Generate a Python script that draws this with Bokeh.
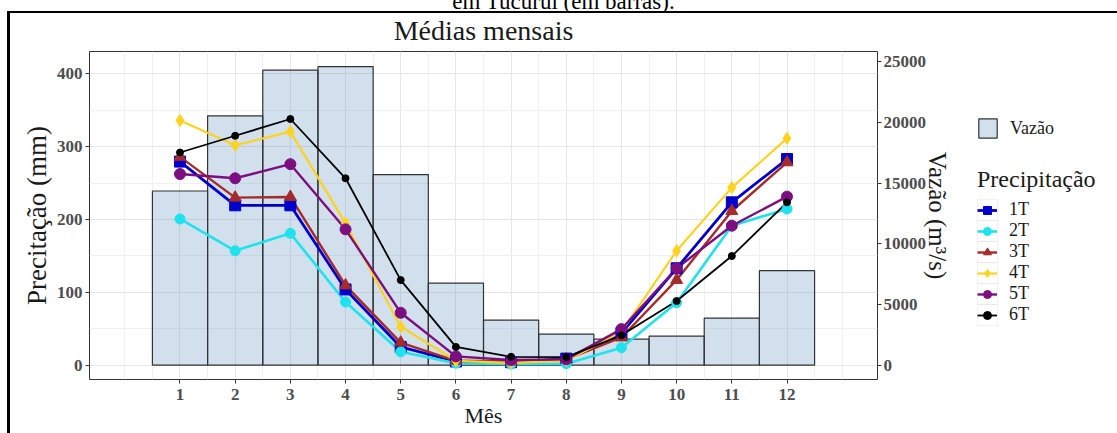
from bokeh.plotting import figure
from bokeh.layouts import row, column
from bokeh.models import (Range1d, LinearAxis, FixedTicker, Legend, LegendItem, Div,
                          BoxAnnotation)
from bokeh.embed import file_html
from bokeh.resources import INLINE

# ---------------- data ----------------
meses = [1, 2, 3, 4, 5, 6, 7, 8, 9, 10, 11, 12]
vazao = [14350, 20540, 24300, 24600, 15700, 6760, 3710, 2560, 2140, 2390, 3880, 7780]

serie_nomes = ["1T", "2T", "3T", "4T", "5T", "6T"]
prec_1t = [279.5, 219.5, 219.5, 104.0, 25.0, 5.0, 4.0, 9.0, 44.0, 133.0, 223.6, 283.0]
prec_2t = [200.7, 157.0, 181.0, 86.6, 18.3, 2.7, 1.5, 2.0, 24.0, 85.6, 191.5, 214.4]
prec_3t = [286.0, 230.0, 231.0, 109.5, 31.0, 6.0, 5.0, 8.0, 38.0, 117.0, 211.7, 278.5]
prec_4t = [336.0, 302.0, 320.7, 194.7, 52.7, 6.0, 3.0, 6.0, 46.0, 157.0, 243.8, 311.5]
prec_5t = [262.5, 256.6, 276.0, 186.5, 71.9, 12.0, 7.0, 8.0, 49.5, 133.0, 191.5, 231.4]
prec_6t = [292.0, 315.0, 338.0, 256.6, 116.8, 25.0, 11.5, 11.0, 41.0, 88.0, 149.8, 223.6]
series = [prec_1t, prec_2t, prec_3t, prec_4t, prec_5t, prec_6t]

y_ticks = [0, 100, 200, 300, 400]
y_minor = [50, 150, 250, 350]
vaz_ticks = [0, 5000, 10000, 15000, 20000, 25000]
fator = 60.0  # vazão = 60 * precipitação (eixo secundário)

# ---------------- styles ----------------
FONT = "Liberation Serif"
cores = ["#0000CD", "#1EE3EE", "#A52A2A", "#FFD21F", "#7D0E80", "#000000"]
marcadores = ["square", "circle", "triangle", "diamond", "circle", "circle"]
tamanhos = [11, 10, 12, 12, 11, 7]
larguras = [2.8, 2.6, 2.4, 2.2, 2.4, 1.8]
bar_style = dict(fill_color="steelblue", fill_alpha=0.25, line_color="#333333", line_width=1.2)

y0, y1 = -19.7, 430.7
p = figure(width=950, height=433, output_backend="svg", toolbar_location=None,
           x_range=Range1d(-0.64, 13.64), y_range=Range1d(y0, y1),
           min_border_left=79, min_border_right=83, min_border_top=51,
           min_border_bottom=54, background_fill_color="white",
           border_fill_color=None, margin=0)
p.outline_line_color = "#333333"
p.outline_line_width = 1
p.extra_y_ranges = {"vaz": Range1d(y0 * fator, y1 * fator)}

p.title.text = "Médias mensais"
p.title.align = "center"
p.title.text_font = FONT
p.title.text_font_size = "28px"
p.title.text_font_style = "normal"
p.title.text_color = "#1A1A1A"
p.title.standoff = 11

p.vbar(x=meses, top=vazao, bottom=0, width=1.0, y_range_name="vaz", **bar_style)
for vals, c, w in zip(series, cores, larguras):
    p.line(meses, vals, line_color=c, line_width=w)
for vals, c, m, s in zip(series, cores, marcadores, tamanhos):
    p.scatter(meses, vals, marker=m, size=s, fill_color=c, line_color=c)

# ---------------- axes ----------------
minor_x = [0] + [m - 0.5 for m in meses] + [meses[-1] + 0.5, meses[-1] + 1]
p.xaxis.ticker = FixedTicker(ticks=meses, minor_ticks=minor_x)
p.yaxis.ticker = FixedTicker(ticks=y_ticks, minor_ticks=y_minor)
right = LinearAxis(y_range_name="vaz", ticker=FixedTicker(ticks=vaz_ticks))
p.add_layout(right, "right")

p.xaxis.axis_label = "Mês"
p.yaxis.axis_label = "Precitação (mm)"
right.axis_label = "Vazão (m³/s)"

for ax, so, lso, lsz in [(p.xaxis[0], 5, 0, "22px"), (p.yaxis[0], 3, 2, "27px"),
                         (right, 2, -5, "25px")]:
    ax.axis_line_color = None
    ax.major_tick_line_color = "#333333"
    ax.major_tick_out = 4
    ax.major_tick_in = 0
    ax.minor_tick_out = 0
    ax.minor_tick_in = 0
    ax.minor_tick_line_color = None
    ax.major_label_standoff = so
    ax.major_label_text_font = FONT
    ax.major_label_text_font_size = "17px"
    ax.major_label_text_font_style = "bold"
    ax.major_label_text_color = "#4D4D4D"
    ax.axis_label_standoff = lso
    ax.axis_label_text_font = FONT
    ax.axis_label_text_font_size = lsz
    ax.axis_label_text_font_style = "normal"
    ax.axis_label_text_color = "#1A1A1A"

for g in (p.xgrid[0], p.ygrid[0]):
    g.grid_line_color = "#E6E6E6"
    g.grid_line_width = 1
    g.minor_grid_line_color = "#F0F0F0"
    g.minor_grid_line_width = 1

# ---------------- legend panel (separate figure; its glyphs are muted, only the legend shows them) ----------------
LF_W, LF_H = 157, 328   # legend-panel frame size in px (x: 0..157, y: 0..328 from its bottom)
lf = figure(width=LF_W, height=433, output_backend="svg", toolbar_location=None,
            x_range=Range1d(0, LF_W), y_range=Range1d(0, LF_H),
            min_border=0, margin=0)
lf.axis.visible = False
lf.grid.visible = False
lf.outline_line_color = None
lf.background_fill_color = None
lf.border_fill_color = None

bar_l = lf.vbar(x=meses, top=vazao, bottom=0, width=1.0, muted_alpha=0, **bar_style)
bar_l.muted = True
itens = []
for n, vals, c, w, m, s in zip(serie_nomes, series, cores, larguras, marcadores, tamanhos):
    lr = lf.line(meses, vals, line_color=c, line_width=w, muted_alpha=0)
    sr = lf.scatter(meses, vals, marker=m, size=s, fill_color=c, line_color=c, muted_alpha=0)
    lr.muted = True
    sr.muted = True
    itens.append(LegendItem(label=n, renderers=[lr, sr]))

# light grey key boxes (ggplot legend.key outlines)
KEY_X0, KEY_W, KEY_H, KEY_TOP = 17, 20, 21, 180
for i in range(len(serie_nomes)):
    lf.add_layout(BoxAnnotation(left=KEY_X0, right=KEY_X0 + KEY_W,
                                top=KEY_TOP - KEY_H * i, bottom=KEY_TOP - KEY_H * (i + 1),
                                fill_color=None, fill_alpha=0, line_color="#D3D3D3",
                                line_width=1))


def estilo(leg, gw=20, gh=20, standoff=12):
    leg.border_line_color = None
    leg.background_fill_alpha = 0
    leg.padding = 0
    leg.margin = 0
    leg.spacing = 0
    leg.glyph_width = gw
    leg.glyph_height = gh
    leg.label_height = 19
    leg.label_standoff = standoff
    leg.label_text_font = FONT
    leg.label_text_font_size = "18px"
    leg.label_text_color = "#1A1A1A"
    leg.title_text_font = FONT
    leg.title_text_font_size = "24px"
    leg.title_text_font_style = "normal"
    leg.title_text_color = "#1A1A1A"
    leg.title_standoff = 6


leg1 = Legend(items=[LegendItem(label="Vazão", renderers=[bar_l])], location=(16, 239))
estilo(leg1, gw=23, gh=24, standoff=11)
leg2 = Legend(items=itens, title="Precipitação", location=(17, 54))
estilo(leg2)
lf.add_layout(leg1)
lf.add_layout(leg2)

# ---------------- document frame & caption (drawn behind the transparent plot borders) ----------------
cap = Div(width=1117, height=13, margin=(0, 0, -13, 0), text=(
    '<div style="position:relative;width:1117px;height:13px;overflow:hidden;">'
    '<div style="position:absolute;left:5px;top:-10px;width:1117px;text-align:center;'
    "font-family:'Liberation Serif';font-size:23px;line-height:23px;color:#000;"
    'white-space:nowrap;">em Tucuruí (em barras).</div>'
    '<div style="position:absolute;left:8px;top:11px;width:1109px;height:1.6px;'
    'background:#000;"></div>'
    '<div style="position:absolute;left:7.4px;top:11px;width:14px;height:2.4px;'
    'background:#000;"></div>'
    '<div style="position:absolute;left:1112px;top:11px;width:5px;height:2.4px;'
    'background:#000;"></div></div>'))
barra = Div(width=10, height=433, margin=0, text=(
    '<div style="margin-left:7.4px;margin-top:11px;width:2.6px;height:422px;'
    'background:#000;"></div>'))

layout = column(cap, row(barra, p, lf, spacing=0, margin=0), spacing=0, margin=0)

open("out.html", "w").write(file_html(layout, INLINE))
